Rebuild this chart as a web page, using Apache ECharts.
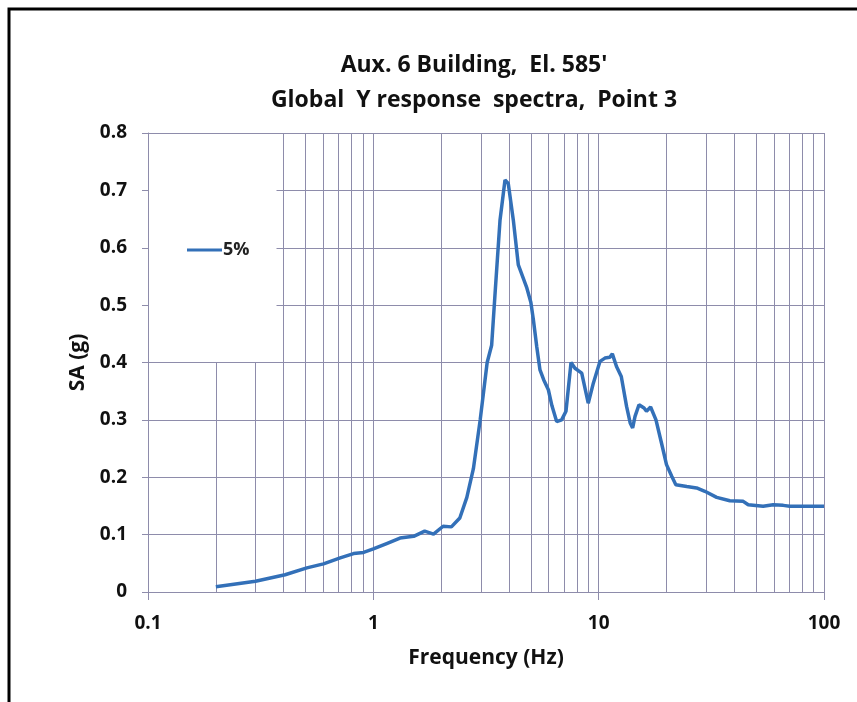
<!DOCTYPE html>
<html>
<head>
<meta charset="utf-8">
<script src="https://cdn.jsdelivr.net/npm/echarts@6/dist/echarts.min.js"></script>
<style>
  html, body { margin: 0; padding: 0; background: #fff; }
  #chart { width: 857px; height: 702px; }
</style>
</head>
<body>
<div id="chart"></div>
<script>
// frequency (Hz) and spectral acceleration (g)
var freq = [0.2, 0.3, 0.406, 0.507, 0.601, 0.713, 0.817, 0.905, 1.0, 1.146, 1.313, 1.51, 1.69, 1.85,
    2.04, 2.22, 2.42, 2.6, 2.78, 2.98, 3.2, 3.35, 3.47, 3.65, 3.84, 3.97, 4.18, 4.4, 4.8, 5.0, 5.13,
    5.31, 5.49, 5.7, 5.98, 6.2, 6.51, 6.85, 7.16, 7.54, 7.85, 8.41, 8.99, 9.47, 10.14, 10.66, 11.2,
    11.5, 12.0, 12.6, 13.3, 13.8, 14.15, 14.5, 15.1, 15.9, 16.3, 17.0, 17.96, 19.0, 20.0, 21.1, 22.0,
    24.6, 27.2, 29.6, 33.4, 38.2, 43.8, 46.1, 53.7, 59.5, 65.9, 70.5, 100];
var sa5 = [0.009, 0.0188, 0.030, 0.042, 0.049, 0.0595, 0.067, 0.069, 0.075, 0.0845, 0.094, 0.097, 0.106, 0.101,
    0.1146, 0.1135, 0.129, 0.165, 0.215, 0.300, 0.40, 0.43, 0.521, 0.6485, 0.718, 0.712, 0.6485, 0.570, 0.53, 0.505, 0.475,
    0.428, 0.387, 0.370, 0.3525, 0.325, 0.297, 0.300, 0.315, 0.400, 0.390, 0.3816, 0.329, 0.364, 0.402, 0.4077, 0.409,
    0.415, 0.393, 0.3757, 0.3235, 0.2946, 0.286, 0.306, 0.3264, 0.3207, 0.315, 0.3224, 0.300, 0.2597, 0.222, 0.2016, 0.187,
    0.184, 0.1814, 0.1755, 0.165, 0.159, 0.158, 0.152, 0.1494, 0.152, 0.151, 0.1494, 0.1494];
// minor vertical grid lines of the log axis
var minorGrid = [0.2, 0.3, 0.4, 0.5, 0.6, 0.7, 0.8, 0.9, 2, 3, 4, 5, 6, 7, 8, 9, 20, 30, 40, 50, 60, 70, 80, 90];

var gridColor = '#8e8cab';
var fontFam = '"Open Sans", Lato, sans-serif';

var data5 = [];
for (var i = 0; i < freq.length; i++) {
    data5.push([freq[i], sa5[i]]);
}
var minorLines = [];
for (var k = 0; k < minorGrid.length; k++) {
    minorLines.push({ xAxis: minorGrid[k] });
}

var myChart = echarts.init(document.getElementById('chart'));
var option = {
    backgroundColor: '#fff',
    animation: false,
    title: {
        text: "Aux. 6 Building,  El. 585'\nGlobal  Y response  spectra,  Point 3",
        left: 469,
        top: 43,
        textAlign: 'center',
        textStyle: { fontFamily: fontFam, fontWeight: 'bold', fontSize: 23, lineHeight: 35, color: '#111' }
    },
    legend: {
        data: ['5%'],
        icon: 'rect',
        left: 149,
        top: 134,
        padding: [107, 27, 103, 38],
        backgroundColor: '#fff',
        itemWidth: 35,
        itemHeight: 3,
        itemGap: 0,
        textStyle: { fontFamily: fontFam, fontWeight: 'bold', fontSize: 18, lineHeight: 14, color: '#222', padding: [0, 0, 0, -4] }
    },
    grid: { left: 148, right: 33, top: 133, bottom: 110 },
    xAxis: {
        type: 'log',
        logBase: 10,
        min: 0.1,
        max: 100,
        name: 'Frequency (Hz)',
        nameLocation: 'middle',
        nameGap: 56,
        nameTextStyle: { fontFamily: fontFam, fontWeight: 'bold', fontSize: 21, color: '#111' },
        axisLine: { lineStyle: { color: gridColor, width: 1 } },
        axisTick: { show: true, length: 8, lineStyle: { color: gridColor } },
        axisLabel: { margin: 22, fontFamily: fontFam, fontWeight: 'bold', fontSize: 19, color: '#111' },
        splitLine: { show: true, lineStyle: { color: gridColor, width: 1 } }
    },
    yAxis: {
        type: 'value',
        min: 0,
        max: 0.8,
        interval: 0.1,
        name: 'SA (g)',
        nameLocation: 'middle',
        nameGap: 59,
        nameTextStyle: { fontFamily: fontFam, fontWeight: 'bold', fontSize: 21, color: '#111' },
        axisLine: { show: true, lineStyle: { color: gridColor, width: 1 } },
        axisTick: { show: true, length: 6, lineStyle: { color: gridColor } },
        axisLabel: { margin: 21, fontFamily: fontFam, fontWeight: 'bold', fontSize: 19, color: '#111' },
        splitLine: { show: true, lineStyle: { color: gridColor, width: 1 } }
    },
    graphic: [{
        type: 'rect',
        shape: { x: 9, y: 9, width: 900, height: 800 },
        style: { fill: 'none', stroke: '#000', lineWidth: 3 },
        z: 100
    }],
    series: [{
        name: '5%',
        type: 'line',
        data: data5,
        symbol: 'none',
        smooth: false,
        lineStyle: { color: '#3370b8', width: 3.5 },
        itemStyle: { color: '#3370b8' },
        z: 3,
        markLine: {
            silent: true,
            symbol: 'none',
            label: { show: false },
            lineStyle: { color: gridColor, width: 1, type: 'solid' },
            emphasis: { disabled: true },
            data: minorLines,
            z: 1
        }
    }]
};
myChart.setOption(option);
</script>
</body>
</html>
